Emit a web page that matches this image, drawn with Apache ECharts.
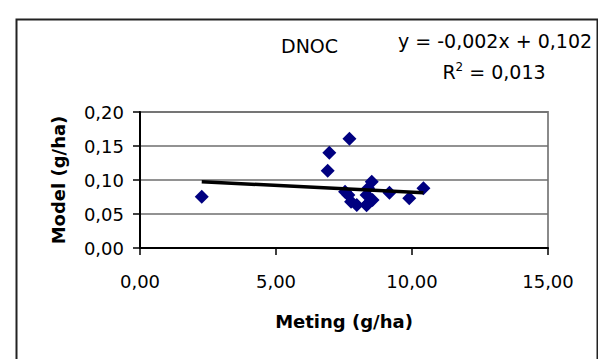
<!DOCTYPE html>
<html>
<head>
<meta charset="utf-8">
<script src="https://cdn.jsdelivr.net/npm/echarts@6/dist/echarts.min.js"></script>
<style>
  html, body { margin: 0; padding: 0; background: #fff; }
  #chart { width: 598px; height: 359px; }
</style>
</head>
<body>
<div id="chart"></div>
<script>
// Measured (Meting) and modelled (Model) DNOC loads, g/ha
const meting = [2.27, 6.90, 6.96, 7.70, 7.54, 7.66, 7.76, 7.97, 8.33, 8.39, 8.55, 8.52, 8.39, 9.17, 9.90, 10.42, 8.33];
const model  = [0.0755, 0.1137, 0.140, 0.1608, 0.0828, 0.078, 0.068, 0.0632, 0.078, 0.0657, 0.0706, 0.0975, 0.0878, 0.0814, 0.073, 0.0878, 0.063];

// Linear trend: y = slope * x + intercept
const trendSlope = [-0.002];
const trendIntercept = [0.102];
const trendR2 = [0.013];

const xTicks = [0, 5, 10, 15];
const yTicks = [0, 0.05, 0.10, 0.15, 0.20];

const FONT = 'DejaVu Sans';
const fmt = (v, d) => v.toFixed(d).replace('.', ',');

const points = meting.map((x, i) => [x, model[i]]);
const xMin = Math.min(...meting), xMax = Math.max(...meting);
const trendLine = [xMin, xMax].map(x => [x, trendSlope[0] * x + trendIntercept[0]]);

const eqText = 'y = ' + fmt(trendSlope[0], 3) + 'x + ' + fmt(trendIntercept[0], 3);

const chart = echarts.init(document.getElementById('chart'), null, { renderer: 'svg' });
chart.setOption({
  animation: false,
  backgroundColor: '#fff',
  title: [
    { text: 'DNOC', left: 276, top: 31,
      textStyle: { fontFamily: FONT, fontSize: 19, fontWeight: 'normal', color: '#000' } },
    { text: eqText, left: 490, top: 26, textAlign: 'center',
      textStyle: { fontFamily: FONT, fontSize: 19, fontWeight: 'normal', color: '#000' } },
    { text: '{r|R}{s|2}{r| = ' + fmt(trendR2[0], 3) + '}', left: 489, top: 56, textAlign: 'center',
      textStyle: {
        fontWeight: 'normal',
        rich: {
          r: { fontFamily: FONT, fontSize: 19, fontWeight: 'normal', color: '#000', lineHeight: 22 },
          s: { fontFamily: FONT, fontSize: 12, fontWeight: 'normal', color: '#000', verticalAlign: 'top', lineHeight: 22 }
        }
      } }
  ],
  graphic: [
    { type: 'rect', left: 14, top: 17, shape: { width: 581, height: 360 },
      style: { fill: 'none', stroke: '#222', lineWidth: 2 }, silent: true, z: -1 }
  ],
  grid: { left: 140, right: 50, top: 112, bottom: 111, show: true,
          borderColor: '#8a8a8a', borderWidth: 2, backgroundColor: 'transparent' },
  xAxis: {
    type: 'value', min: xTicks[0], max: xTicks[xTicks.length - 1], interval: xTicks[1] - xTicks[0],
    name: 'Meting (g/ha)', nameLocation: 'middle', nameGap: 64,
    nameTextStyle: { fontFamily: FONT, fontSize: 18, fontWeight: 'bold', color: '#000' },
    axisLine: { show: true, lineStyle: { color: '#000', width: 2 } },
    axisTick: { show: true, length: 7, lineStyle: { color: '#000', width: 1.5 } },
    axisLabel: { margin: 24, fontFamily: FONT, fontSize: 18, color: '#000', formatter: v => fmt(v, 2) },
    splitLine: { show: false }
  },
  yAxis: {
    type: 'value', min: yTicks[0], max: yTicks[yTicks.length - 1], interval: yTicks[1] - yTicks[0],
    name: 'Model (g/ha)', nameLocation: 'middle', nameGap: 73, nameRotate: 90,
    nameTextStyle: { fontFamily: FONT, fontSize: 18, fontWeight: 'bold', color: '#000' },
    axisLine: { show: true, lineStyle: { color: '#000', width: 2 } },
    axisTick: { show: true, length: 7, lineStyle: { color: '#000', width: 1.5 } },
    axisLabel: { margin: 16, fontFamily: FONT, fontSize: 18, color: '#000', formatter: v => fmt(v, 2) },
    splitLine: { show: true, lineStyle: { color: '#6e6e6e', width: 1.5 } }
  },
  series: [
    { type: 'scatter', data: points, symbol: 'diamond', symbolSize: 14,
      itemStyle: { color: '#000080', opacity: 1 }, z: 2 },
    { type: 'line', data: trendLine, symbol: 'none', lineStyle: { color: '#000', width: 3.5 }, z: 3 }
  ]
});
</script>
</body>
</html>
